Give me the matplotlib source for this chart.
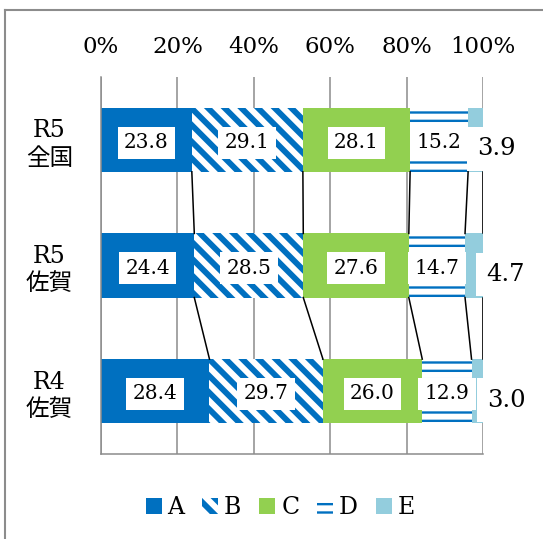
import numpy as np
import matplotlib
matplotlib.use("Agg")
import matplotlib.pyplot as plt
from matplotlib.patches import Patch
from matplotlib.lines import Line2D

plt.rcParams['font.family'] = ['DejaVu Serif', 'Noto Sans CJK JP']

# data
categories = ['R5\n全国', 'R5\n佐賀', 'R4\n佐賀']
series_names = ['A', 'B', 'C', 'D', 'E']
a_vals = [23.8, 24.4, 28.4]
b_vals = [29.1, 28.5, 29.7]
c_vals = [28.1, 27.6, 26.0]
d_vals = [15.2, 14.7, 12.9]
e_vals = [3.9, 4.7, 3.0]
xticks = [0, 20, 40, 60, 80, 100]
xtick_labels = ['0%', '20%', '40%', '60%', '80%', '100%']

blue = '#0070C0'
green = '#92D050'
light = '#93CDDD'
grey = '#8C8C8C'

styles = [
    dict(color=blue, hatch=None, hlw=None),
    dict(color='white', edgecolor=blue, hatch='\\\\', hlw=4.2),
    dict(color=green, hatch=None, hlw=None),
    dict(color='white', edgecolor=blue, hatch='--', hlw=1.7),
    dict(color=light, hatch=None, hlw=None),
]

vals = np.array([a_vals, b_vals, c_vals, d_vals, e_vals])  # series x category
shares = vals / vals.sum(axis=0) * 100
cum = np.vstack([np.zeros(len(categories)), np.cumsum(shares, axis=0)])

fig = plt.figure(figsize=(5.43, 5.39), dpi=100)
ax = fig.add_axes([101 / 543, 1 - 454 / 539, 382 / 543, 377 / 539])

y = np.arange(len(categories))
h = 0.51
for k, st in enumerate(styles):
    kw = dict(left=cum[k], height=h, color=st['color'], linewidth=0, zorder=2)
    if st['hatch']:
        kw.update(edgecolor=st['edgecolor'], hatch=st['hatch'])
    with plt.rc_context({'hatch.linewidth': st['hlw'] or 1.0}):
        bars = ax.barh(y, shares[k], **kw)
    for b in bars:
        if st['hlw'] and hasattr(b, 'set_hatch_linewidth'):
            b.set_hatch_linewidth(st['hlw'])

# series lines between bars
for k in range(1, cum.shape[0]):
    for i in range(len(categories) - 1):
        ax.plot([cum[k, i], cum[k, i + 1]], [i + h / 2, i + 1 - h / 2],
                color='black', lw=1.1, zorder=3)

# data labels
for k in range(4):
    for i in range(len(categories)):
        ax.annotate(f'{vals[k, i]:.1f}', (cum[k, i] + shares[k, i] / 2, i),
                    xytext=(0, -2), textcoords='offset points',
                    ha='center', va='center', fontsize=14.5, zorder=5,
                    bbox=dict(boxstyle='square,pad=0.32', fc='white', ec='none'))
e_offsets = [-4.3, 2.2, 2.9]
for i in range(len(categories)):
    ax.annotate(f'{vals[4, i]:.1f}', (100, i), xytext=(e_offsets[i], -6.5),
                textcoords='offset points', ha='left', va='center',
                fontsize=17.5, zorder=5, annotation_clip=False,
                bbox=dict(boxstyle='square,pad=0.42', fc='white', ec='none'))

ax.set_xlim(0, 100)
ax.set_ylim(2.5, -0.5)
ax.xaxis.tick_top()
ax.set_xticks(xticks, xtick_labels, fontsize=16.5)
ax.set_yticks(y, categories, fontsize=17)
for t in ax.get_yticklabels():
    t.set_ha('center')
    t.set_linespacing(1.25)
ax.tick_params(axis='x', length=0, pad=14)
ax.tick_params(axis='y', length=0, pad=37)
ax.grid(axis='x', color=grey, lw=1.1, zorder=0)
ax.set_axisbelow(True)
for s in ['top', 'right']:
    ax.spines[s].set_visible(False)
for s in ['left', 'bottom']:
    ax.spines[s].set_color(grey)
    ax.spines[s].set_linewidth(1.1)

handles = []
for st in styles:
    if st['hatch']:
        p = Patch(facecolor='white', edgecolor=st['edgecolor'], hatch=st['hatch'], linewidth=0)
    else:
        p = Patch(facecolor=st['color'], linewidth=0)
    handles.append(p)
leg = fig.legend(handles, series_names, loc='center', bbox_to_anchor=(0.516, 0.058),
                 ncol=5, frameon=False, fontsize=17, handlelength=0.68,
                 handleheight=0.68, handletextpad=0.25, columnspacing=0.75)
for p, st in zip(leg.get_patches(), styles):
    if st['hlw'] and hasattr(p, 'set_hatch_linewidth'):
        p.set_hatch_linewidth(st['hlw'])

# outer frame of the chart area
fig.add_artist(Line2D([4.5 / 543, 1], [1 - 9.5 / 539] * 2, color=grey, lw=1.5,
                      transform=fig.transFigure))
fig.add_artist(Line2D([4.5 / 543] * 2, [0, 1 - 9.5 / 539], color=grey, lw=1.5,
                      transform=fig.transFigure))

fig.savefig('out.png', dpi=100)
